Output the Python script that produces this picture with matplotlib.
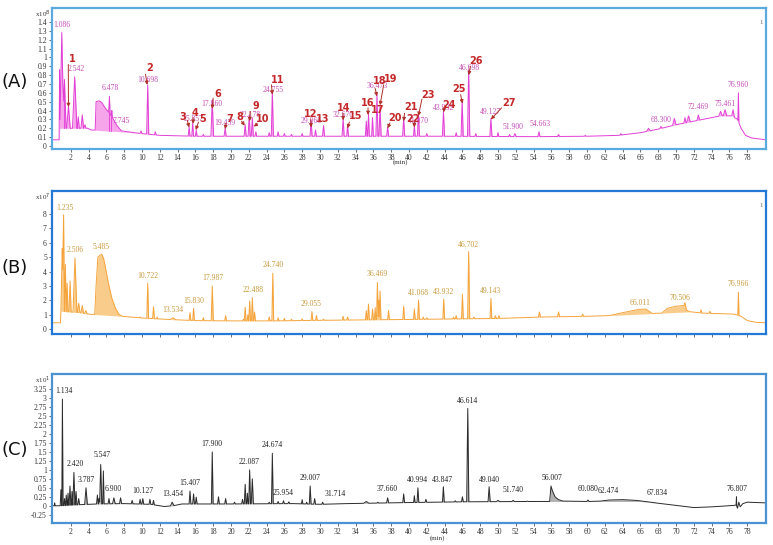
import matplotlib
matplotlib.use("Agg")
import matplotlib.pyplot as plt
import numpy as np

# ---------------- panel A (x10^8) ----------------
a_base_t = [0, 0.72, 0.78, 3.9, 4.3, 6.0, 7.7, 10, 12, 16, 20, 26, 34, 44, 54, 60, 63.5, 66, 68, 70, 72.5, 75, 76.3, 76.9, 77.3, 77.8, 78.5, 80.1]
a_base_y = [0.07, 0.07, 0.2, 0.2, 0.18, 0.17, 0.16, 0.14, 0.12, 0.11, 0.11, 0.11, 0.11, 0.11, 0.105, 0.11, 0.12, 0.15, 0.19, 0.24, 0.29, 0.34, 0.34, 0.3, 0.2, 0.12, 0.09, 0.07]
a_peak_t = [0.75, 1.0, 1.3, 1.75, 2.45, 2.85, 3.3, 3.6, 6.35, 6.62, 9.9, 10.65, 11.5, 15.3, 15.7, 16.1, 16.9, 17.9, 19.35, 21.6, 22.05, 22.4, 22.8,
            24.3, 24.65, 25.3, 26.0, 26.8, 28.0, 29.0, 29.5, 30.4, 32.6, 33.1, 35.2, 35.45, 35.9, 36.4, 36.75, 37.6, 39.4, 40.6, 41.06, 42.0,
            43.87, 45.3, 45.97, 46.7, 47.5, 49.2, 50.0, 51.3, 51.9, 54.6, 56.8, 59.8, 63.8, 66.9, 68.3, 69.8, 71.0, 71.4, 72.5, 75.0, 75.5, 76.4, 77.0]
a_peak_h = [0.86, 1.28, 0.75, 0.45, 0.78, 0.33, 0.35, 0.24, 0.56, 0.4, 0.17, 0.69, 0.16, 0.22, 0.26, 0.18, 0.13, 0.52, 0.2, 0.24, 0.35, 0.32, 0.16,
            0.15, 0.63, 0.16, 0.14, 0.13, 0.14, 0.29, 0.18, 0.23, 0.31, 0.23, 0.28, 0.36, 0.32, 0.58, 0.45, 0.21, 0.31, 0.23, 0.36, 0.14,
            0.39, 0.15, 0.52, 0.86, 0.14, 0.31, 0.15, 0.13, 0.14, 0.16, 0.13, 0.12, 0.14, 0.2, 0.22, 0.31, 0.32, 0.34, 0.35, 0.39, 0.41, 0.41, 0.6]
a_peak_w = [0.05, 0.22, 0.18, 0.2, 0.25, 0.12, 0.15, 0.12, 0.08, 0.06, 0.12, 0.12, 0.1, 0.1, 0.1, 0.1, 0.1, 0.15, 0.12, 0.12, 0.12, 0.12, 0.1,
            0.1, 0.12, 0.1, 0.1, 0.1, 0.1, 0.12, 0.1, 0.12, 0.12, 0.1, 0.1, 0.1, 0.1, 0.12, 0.12, 0.12, 0.12, 0.1, 0.12, 0.1,
            0.12, 0.1, 0.12, 0.13, 0.1, 0.12, 0.1, 0.1, 0.15, 0.12, 0.12, 0.1, 0.1, 0.2, 0.15, 0.2, 0.12, 0.2, 0.15, 0.2, 0.2, 0.15, 0.06]
a_hump_t = [4.75, 4.85, 5.2, 5.5, 5.8, 6.1, 6.45, 6.8, 7.2, 7.7]
a_hump_y = [0.18, 0.5, 0.51, 0.49, 0.44, 0.4, 0.36, 0.3, 0.23, 0.17]
a_drop_t = [1.3, 1.55, 2.1, 2.75, 3.05, 3.5, 6.25, 6.55]
a_lab = ["1.086", "2.542", "6.478", "7.745", "10.698", "15.857", "17.960", "19.459", "22.178", "24.755", "29.066", "32.670",
         "36.473", "41.070", "43.932", "46.698", "49.127", "51.900", "54.663", "68.300", "72.469", "75.461", "76.960"]
a_lab_t = [1.0, 2.6, 6.4, 7.65, 10.65, 15.75, 17.9, 19.35, 22.2, 24.7, 29.0, 32.6, 36.4, 41.0, 43.9, 46.75, 49.1, 51.7, 54.7, 68.3, 72.5, 75.5, 77.0]
a_lab_v = [1.32, 0.82, 0.61, 0.24, 0.70, 0.26, 0.43, 0.21, 0.30, 0.59, 0.24, 0.31, 0.63, 0.24, 0.38, 0.84, 0.34, 0.17, 0.2, 0.25, 0.39, 0.43, 0.64]
a_num = [str(i) for i in range(1, 28)]
a_num_t = [2.18, 10.9, 14.6, 15.97, 16.8, 18.5, 19.9, 20.95, 22.8, 23.6, 25.2, 28.97, 30.3, 32.7, 34.0, 35.4, 36.45, 36.75, 37.9, 38.4, 40.2, 40.5, 42.1, 44.5, 45.66, 47.5, 51.2]
a_num_v = [0.98, 0.88, 0.33, 0.37, 0.30, 0.59, 0.31, 0.33, 0.45, 0.30, 0.75, 0.36, 0.30, 0.43, 0.34, 0.49, 0.41, 0.73, 0.76, 0.32, 0.44, 0.30, 0.58, 0.46, 0.64, 0.96, 0.48]
nan = float("nan")
a_arr_t0 = [1.73, 10.4, 15.1, 15.75, 16.35, 18.0, 19.45, 21.2, 22.15, 23.0, 24.55, 28.97, nan, 32.6, 33.3, 35.4, nan, 36.2, 37.15, 37.85, 39.5, 40.6, 41.45, 43.95, 45.8, 46.9, 50.4]
a_arr_v0 = [0.92, 0.81, 0.29, 0.32, 0.27, 0.54, 0.26, 0.28, 0.39, 0.25, 0.69, 0.30, nan, 0.37, 0.27, 0.43, nan, 0.65, 0.69, 0.26, 0.37, 0.27, 0.53, 0.43, 0.58, 0.90, 0.43]
a_arr_t1 = [1.75, 10.6, 15.3, 15.75, 16.05, 17.9, 19.35, 21.55, 22.1, 22.55, 24.65, 29.0, nan, 32.6, 33.1, 35.4, nan, 36.4, 36.75, 37.6, 39.4, 40.6, 41.06, 43.9, 46.0, 46.7, 49.2]
a_arr_v1 = [0.44, 0.69, 0.21, 0.25, 0.18, 0.42, 0.19, 0.23, 0.28, 0.22, 0.58, 0.21, nan, 0.29, 0.20, 0.35, nan, 0.56, 0.46, 0.20, 0.28, 0.21, 0.34, 0.38, 0.48, 0.80, 0.30]
a_yticks = [round(0.1 * i, 1) for i in range(15)]

# ---------------- panel B (x10^7) ----------------
b_base_t = [0, 0.85, 0.9, 3.0, 4.0, 7.8, 10, 13, 16, 20, 25, 30, 40, 50, 55, 60, 62.5, 66, 68.4, 71.15, 71.5, 73, 76.5, 77.3, 78, 79, 80.1]
b_base_y = [0.45, 0.45, 1.25, 1.15, 1.05, 0.9, 0.78, 0.68, 0.6, 0.58, 0.58, 0.62, 0.68, 0.75, 0.85, 0.9, 0.95, 1.05, 1.12, 1.2, 1.22, 1.12, 1.05, 0.9, 0.6, 0.48, 0.45]
b_peak_t = [1.05, 1.2, 1.4, 1.6, 1.93, 2.48, 2.9, 3.3, 3.7, 9.8, 10.65, 11.3, 11.7, 13.5, 15.4, 15.8, 16.9, 17.9, 19.4, 21.4, 21.6, 21.9, 22.1, 22.4, 22.65,
            24.3, 24.7, 25.3, 26.0, 26.8, 28.0, 29.1, 29.6, 30.4, 32.6, 33.1, 35.2, 35.45, 35.9, 36.2, 36.45, 36.6, 36.75, 37.7, 39.4, 40.6, 41.07,
            41.6, 42.0, 43.9, 45.0, 45.3, 46.0, 46.7, 47.3, 49.2, 49.7, 50.1, 52.0, 54.65, 56.8, 59.5, 72.8, 73.8, 77.0]
b_peak_h = [5.6, 7.95, 4.5, 3.2, 3.35, 4.95, 1.8, 1.65, 1.3, 0.85, 3.2, 1.57, 0.85, 0.8, 1.15, 1.46, 0.8, 3.0, 0.95, 0.7, 1.53, 1.0, 1.97, 2.2, 1.2,
            0.85, 3.89, 0.8, 0.75, 0.7, 0.72, 1.22, 0.95, 0.7, 0.9, 0.85, 1.3, 1.75, 1.4, 1.5, 3.26, 2.0, 2.66, 1.3, 1.6, 1.4, 2.03,
            0.85, 0.8, 2.09, 0.85, 0.95, 2.43, 5.39, 0.85, 2.15, 0.95, 0.95, 0.8, 1.2, 1.2, 1.05, 1.35, 1.25, 2.57]
b_peak_w = [0.15, 0.1, 0.1, 0.1, 0.12, 0.22, 0.15, 0.15, 0.15, 0.1, 0.1, 0.1, 0.08, 0.3, 0.1, 0.1, 0.1, 0.12, 0.1, 0.1, 0.1, 0.08, 0.1, 0.1, 0.1,
            0.1, 0.1, 0.1, 0.1, 0.1, 0.1, 0.1, 0.1, 0.1, 0.1, 0.1, 0.1, 0.1, 0.1, 0.08, 0.1, 0.06, 0.1, 0.1, 0.1, 0.1, 0.1,
            0.1, 0.1, 0.1, 0.08, 0.1, 0.1, 0.12, 0.1, 0.1, 0.1, 0.1, 0.15, 0.12, 0.12, 0.12, 0.1, 0.1, 0.07]
b_hump1_t = [4.7, 4.85, 5.05, 5.3, 5.5, 5.7, 5.9, 6.2, 6.6, 7.0, 7.4, 7.8]
b_hump1_y = [1.0, 3.0, 5.0, 5.15, 5.2, 4.9, 4.3, 3.3, 2.2, 1.5, 1.05, 0.9]
b_hump2_t = [62.5, 64.0, 65.8, 66.6, 67.3]
b_hump2_y = [0.95, 1.15, 1.38, 1.4, 1.1]
b_hump3_t = [68.4, 69.0, 70.0, 70.9, 71.0, 71.15, 71.5]
b_hump3_y = [1.12, 1.45, 1.6, 1.65, 1.85, 1.35, 1.22]
b_drop_t = [1.3, 1.5, 1.75, 2.2, 2.75]
b_lab = ["1.235", "2.506", "5.485", "10.722", "13.534", "15.830", "17.987", "22.488", "24.740", "29.055", "36.469",
         "41.068", "43.932", "46.702", "49.143", "66.011", "70.506", "76.966"]
b_lab_t = [1.3, 2.5, 5.45, 10.7, 13.5, 15.8, 17.95, 22.45, 24.7, 29.0, 36.45, 41.05, 43.9, 46.7, 49.1, 65.95, 70.45, 76.95]
b_lab_v = [8.17, 5.23, 5.46, 3.42, 1.06, 1.67, 3.28, 2.43, 4.19, 1.5, 3.54, 2.26, 2.33, 5.6, 2.38, 1.57, 1.88, 2.85]
b_yticks = list(range(9))

# ---------------- panel C ----------------
c_base_t = [0, 0.8, 3, 5, 8, 11, 12.5, 13.5, 14.5, 20, 27, 30, 33, 40, 46, 54, 60, 66, 68, 72, 74, 76.5, 76.75, 76.9, 77.05, 77.2, 77.5, 78, 80.1]
c_base_y = [0.0, 0.0, 0.03, 0.05, 0.06, 0.04, -0.02, 0.0, 0.05, 0.05, 0.06, 0.04, 0.06, 0.09, 0.11, 0.12, 0.12, 0.12, 0.07, -0.05, -0.03, 0.01, 0.02, -0.07, 0.1, -0.03, 0.06, 0.1, 0.08]
c_peak_t = [0.2, 0.9, 1.07, 1.3, 1.5, 1.7, 1.92, 2.15, 2.36, 2.6, 2.9, 3.72, 5.0, 5.2, 5.37, 5.67, 6.3, 6.85, 7.6, 8.9, 9.8, 10.1, 10.9, 11.3,
            13.4, 15.4, 15.8, 16.1, 17.9, 18.6, 19.4, 20.4, 21.3, 21.6, 21.85, 22.1, 22.4, 24.3, 24.65, 25.3, 25.9, 26.5, 28.0, 28.5, 28.9,
            29.4, 30.3, 35.2, 36.5, 37.6, 39.4, 40.6, 41.0, 41.9, 43.86, 45.2, 46.0, 46.6, 49.0, 50.0, 51.7, 53.3, 60.1, 76.78]
c_peak_h = [0.08, 0.45, 2.97, 0.2, 0.3, 0.35, 0.55, 0.4, 0.93, 0.4, 0.2, 0.5, 0.3, 0.2, 1.15, 0.97, 0.2, 0.22, 0.22, 0.15, 0.18, 0.2, 0.18, 0.15,
            0.1, 0.41, 0.33, 0.24, 1.5, 0.25, 0.2, 0.1, 0.18, 0.6, 0.35, 1.0, 0.75, 0.1, 1.46, 0.12, 0.14, 0.11, 0.17, 0.1, 0.55,
            0.2, 0.1, 0.12, 0.1, 0.22, 0.33, 0.28, 0.5, 0.18, 0.53, 0.14, 0.25, 2.71, 0.53, 0.15, 0.15, 0.13, 0.16, 0.25]
c_peak_w = [0.05, 0.08, 0.07, 0.08, 0.08, 0.08, 0.1, 0.08, 0.12, 0.1, 0.1, 0.15, 0.1, 0.08, 0.12, 0.08, 0.1, 0.15, 0.12, 0.1, 0.1, 0.1, 0.1, 0.1,
            0.2, 0.1, 0.1, 0.1, 0.1, 0.1, 0.1, 0.1, 0.1, 0.1, 0.08, 0.1, 0.12, 0.1, 0.1, 0.1, 0.1, 0.1, 0.08, 0.08, 0.1,
            0.1, 0.1, 0.3, 0.1, 0.12, 0.1, 0.08, 0.1, 0.1, 0.1, 0.1, 0.1, 0.12, 0.12, 0.2, 0.15, 0.1, 0.12, 0.04]
c_hump1_t = [55.8, 55.95, 56.1, 56.4, 56.8, 57.3]
c_hump1_y = [0.12, 0.55, 0.42, 0.25, 0.17, 0.13]
c_hump2_t = [61.5, 62.5, 64.0, 65.5, 66.5]
c_hump2_y = [0.13, 0.16, 0.17, 0.15, 0.12]
c_lab = ["1.134", "2.420", "3.787", "5.547", "6.900", "10.127", "13.454", "15.407", "17.900", "22.087", "24.674", "25.954",
         "29.007", "31.714", "37.660", "40.994", "43.847", "46.614", "49.040", "51.740", "56.007", "60.080", "62.474", "67.834", "76.807"]
c_lab_t = [1.2, 2.5, 3.8, 5.5, 6.8, 10.1, 13.45, 15.4, 17.9, 22.0, 24.65, 25.9, 28.95, 31.7, 37.6, 41.0, 43.8, 46.6, 49.0, 51.7, 56.05, 60.15, 62.4, 67.85, 76.8]
c_lab_v = [3.08, 1.06, 0.62, 1.29, 0.35, 0.30, 0.22, 0.51, 1.6, 1.1, 1.57, 0.25, 0.67, 0.21, 0.35, 0.6, 0.62, 2.82, 0.62, 0.33, 0.66, 0.35, 0.30, 0.25, 0.36]
c_yticks = [round(-0.25 + 0.25 * i, 2) for i in range(15)]

x_ticks = list(range(2, 80, 2))


def build_trace(base_t, base_y, pk_t, pk_h, pk_w, humps):
    pk_t, pk_h, pk_w = np.asarray(pk_t), np.asarray(pk_h), np.asarray(pk_w)
    pts = [np.asarray(base_t), pk_t, pk_t - pk_w, pk_t + pk_w]
    pts += [np.asarray(h[0]) for h in humps]
    xs = np.unique(np.concatenate(pts))
    base = np.interp(xs, base_t, base_y)
    y = base.copy()
    for t, h, w in zip(pk_t, pk_h, pk_w):
        b0 = np.interp(t - w, base_t, base_y)
        b1 = np.interp(t + w, base_t, base_y)
        m = (xs >= t - w) & (xs <= t)
        y[m] = np.maximum(y[m], b0 + (h - b0) * (xs[m] - (t - w)) / w)
        m = (xs > t) & (xs <= t + w)
        y[m] = np.maximum(y[m], h + (b1 - h) * (xs[m] - t) / w)
    for ht, hy in humps:
        m = (xs >= ht[0]) & (xs <= ht[-1])
        y[m] = np.maximum(y[m], np.interp(xs[m], ht, hy))
    return xs, y, base


def style_axes(ax, frame, ylim, yticks, show_xlabels):
    ax.set_xlim(-0.1, 80.1)
    ax.set_ylim(*ylim)
    for s in ax.spines.values():
        s.set_color(frame)
        s.set_linewidth(1.6)
    ax.set_yticks(yticks)
    ax.set_yticklabels([f"{v:g}" for v in yticks])
    ax.set_xticks(x_ticks)
    if show_xlabels:
        ax.set_xticklabels([str(v) for v in x_ticks])
    else:
        ax.set_xticklabels([])
    ax.tick_params(length=2.5, width=0.6, color="#555555", labelsize=5.5, labelcolor="#333333", pad=1.2)
    for lbl in ax.get_xticklabels() + ax.get_yticklabels():
        lbl.set_family("Liberation Serif")


fig = plt.figure(figsize=(7.73, 5.45), dpi=100)
W, H = 773.0, 545.0

panels = [
    dict(name="(A)", rect=(52, 8, 766, 149), ylim=(-0.034, 1.557), yticks=a_yticks, exp="8", frame="#5aaae0",
         line="#e23fd6", fill="#f59be9", lab_c="#c64cb8", xl=True,
         data=(a_base_t, a_base_y, a_peak_t, a_peak_h, a_peak_w, [(a_hump_t, a_hump_y)]),
         drops=a_drop_t, labs=(a_lab, a_lab_t, a_lab_v), minlab=(400, 162), letter_y=82),
    dict(name="(B)", rect=(52, 191, 766, 334), ylim=(-0.33, 9.6), yticks=b_yticks, exp="7", frame="#2478d6",
         line="#f5a43c", fill="#f9c77e", lab_c="#c89a3c", xl=False,
         data=(b_base_t, b_base_y, b_peak_t, b_peak_h, b_peak_w,
               [(b_hump1_t, b_hump1_y), (b_hump2_t, b_hump2_y), (b_hump3_t, b_hump3_y)]),
         drops=b_drop_t, labs=(b_lab, b_lab_t, b_lab_v), minlab=None, letter_y=268),
    dict(name="(C)", rect=(52, 374, 766, 523), ylim=(-0.48, 3.67), yticks=c_yticks, exp="1", frame="#4a92d2",
         line="#2b2b2b", fill="#a9a9a9", lab_c="#222222", xl=True,
         data=(c_base_t, c_base_y, c_peak_t, c_peak_h, c_peak_w, [(c_hump1_t, c_hump1_y), (c_hump2_t, c_hump2_y)]),
         drops=[], labs=(c_lab, c_lab_t, c_lab_v), minlab=(437, 538), letter_y=450),
]

axes = []
for p in panels:
    x0, y0, x1, y1 = p["rect"]
    ax = fig.add_axes([x0 / W, 1 - y1 / H, (x1 - x0) / W, (y1 - y0) / H])
    axes.append(ax)
    xs, ys, base = build_trace(*p["data"])
    ax.fill_between(xs, base, ys, color=p["fill"], lw=0, alpha=0.9)
    ax.plot(xs, ys, color=p["line"], lw=0.7)
    for t in p["drops"]:
        ax.plot([t, t], [np.interp(t, xs, base), np.interp(t, xs, ys)], color=p["line"], lw=0.6)
    for s, t, v in zip(*p["labs"]):
        ax.text(t, v, s, color=p["lab_c"], fontsize=5.5, family="Liberation Serif", ha="center", va="bottom")
    style_axes(ax, p["frame"], p["ylim"], p["yticks"], p["xl"])
    fig.text(50 / W, 1 - (y0 + 6) / H, "x10$^{%s}$" % p["exp"], fontsize=5, color="#333333",
             family="Liberation Serif", ha="right", va="center")
    fig.text(15 / W, 1 - p["letter_y"] / H, p["name"], fontsize=13, ha="center", va="center", color="#111111")
    if p["minlab"] is not None:
        fig.text(p["minlab"][0] / W, 1 - p["minlab"][1] / H, "(min)", fontsize=5, color="#333333",
                 family="Liberation Serif", ha="center", va="center")

# peak numbers and arrows on panel A
ax = axes[0]
for s, t, v in zip(a_num, a_num_t, a_num_v):
    ax.text(t, v, s, color="#c4282a", fontsize=7, fontweight="bold", ha="center", va="center")
for t0, v0, t1, v1 in zip(a_arr_t0, a_arr_v0, a_arr_t1, a_arr_v1):
    if np.isnan(t0):
        continue
    ax.annotate("", xy=(t1, v1), xytext=(t0, v0),
                arrowprops=dict(arrowstyle="-|>", color="#b0302a", lw=0.7, mutation_scale=5, shrinkA=0, shrinkB=0))

# small run markers
axes[0].text(79.6, 1.38, "1", fontsize=5, color="#666666", family="Liberation Serif", ha="center")
axes[1].text(79.6, 8.5, "1", fontsize=5, color="#666666", family="Liberation Serif", ha="center")

fig.savefig("out.png", dpi=100, facecolor="white")
